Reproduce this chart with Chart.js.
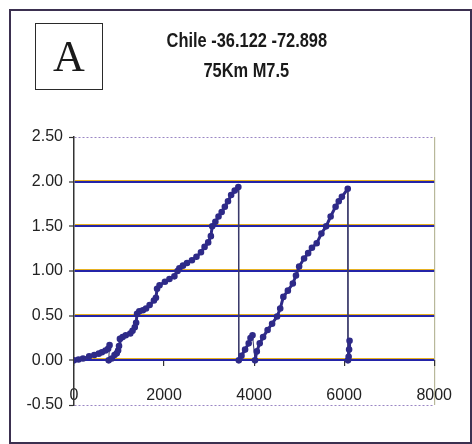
<!DOCTYPE html>
<html>
<head>
<meta charset="utf-8">
<script src="https://cdn.jsdelivr.net/npm/chart.js@4/dist/chart.umd.min.js"></script>
<style>
  html, body { margin: 0; padding: 0; background: #fff; }
  #wrap { position: relative; width: 472px; height: 444px; overflow: hidden; }
  #frame { position: absolute; left: 9px; top: 9px; width: 459px; height: 431px; border: 2px solid #3b3050; box-sizing: content-box; }
  #abox { position: absolute; left: 35px; top: 23px; width: 66px; height: 65px; border: 1.5px solid #2a2a2a;
          font-family: "Liberation Serif", "DejaVu Serif", serif; font-size: 44px; line-height: 65px; text-align: center; color: #1a1a1a; }
  .tl { position: absolute; left: 0; width: 493px; text-align: center; font-family: "Liberation Sans", Arial, sans-serif;
        font-weight: bold; font-size: 20px; color: #1a1a1a; white-space: nowrap; }
  .tl span { display: inline-block; transform: scaleX(0.82); transform-origin: center; }
  canvas { position: absolute; left: 0; top: 0; }
</style>
</head>
<body>
<div id="wrap">
  <canvas id="c" width="472" height="444"></canvas>
  <div id="frame"></div>
  <div id="abox">A</div>
  <div class="tl" style="top:29px"><span>Chile -36.122 -72.898</span></div>
  <div class="tl" style="top:59px"><span>75Km M7.5</span></div>
</div>
<script>
const xValues = [0,100,200,337,450,550,620,700,758,790,
  770,840,900,950,980,1000,1020,1080,1150,1250,1300,1350,1380,1400,1450,1530,1600,1680,1775,1820,1845,1900,2020,2120,2230,2300,2340,2420,2510,2620,2720,2820,2900,2980,3040,3070,3140,3210,3280,3350,3420,3490,3570,3650,
  3660,3720,3800,3880,3920,3965,
  4020,4060,4125,4200,4300,4400,4510,4580,4650,4750,4860,4930,5000,5110,5200,5285,5390,5495,5600,5700,5810,5880,5950,6080,
  6085,6100,6110,6120];
const yValues = [0,0.01,0.02,0.045,0.06,0.075,0.09,0.11,0.13,0.17,
  0.0,0.02,0.06,0.08,0.11,0.16,0.24,0.26,0.28,0.30,0.33,0.37,0.42,0.52,0.55,0.56,0.58,0.62,0.67,0.70,0.80,0.84,0.88,0.91,0.94,1.00,1.03,1.06,1.09,1.12,1.16,1.21,1.27,1.32,1.39,1.50,1.55,1.61,1.66,1.72,1.78,1.85,1.90,1.94,
  0.0,0.05,0.12,0.19,0.25,0.28,
  0.0,0.10,0.19,0.26,0.34,0.41,0.49,0.58,0.71,0.78,0.86,0.95,1.05,1.14,1.20,1.26,1.31,1.42,1.50,1.61,1.72,1.78,1.83,1.92,
  0.0,0.04,0.12,0.22];
const yTicks = [-0.5, 0, 0.5, 1.0, 1.5, 2.0, 2.5];
const xTicks = [0, 2000, 4000, 6000, 8000];

const points = xValues.map((x, i) => ({ x: x, y: yValues[i] }));
const lineColor = '#2e2a88';

const accentPlugin = {
  id: 'accent',
  beforeDatasetsDraw(chart) {
    const ctx = chart.ctx, ys = chart.scales.y, a = chart.chartArea;
    ctx.save();
    ctx.strokeStyle = '#e6b020';
    ctx.lineWidth = 1.2;
    [0, 0.5, 1.0, 1.5, 2.0].forEach(v => {
      const p = Math.round(ys.getPixelForValue(v)) - 1.5;
      ctx.beginPath(); ctx.moveTo(a.left + 1, p); ctx.lineTo(a.right, p); ctx.stroke();
    });
    ctx.restore();
  }
};

new Chart(document.getElementById('c'), {
  type: 'scatter',
  data: {
    datasets: [{
      data: points,
      showLine: true,
      borderColor: lineColor,
      backgroundColor: lineColor,
      borderWidth: 3,
      pointRadius: 1.8,
      pointHoverRadius: 0,
      segment: {
        borderWidth: c => (c.p0.parsed.y - c.p1.parsed.y > 0.1 ? 1 : 3),
        borderColor: c => (c.p0.parsed.y - c.p1.parsed.y > 0.1 ? '#3a3a6a' : lineColor)
      }
    }]
  },
  options: {
    responsive: false,
    animation: false,
    events: [],
    layout: { padding: { left: 0, right: 18, top: 137, bottom: 39 } },
    plugins: { legend: { display: false }, tooltip: { enabled: false }, title: { display: false } },
    scales: {
      x: {
        type: 'linear',
        position: { y: 0 },
        min: 0, max: 8000,
        afterBuildTicks: s => { s.ticks = xTicks.map(v => ({ value: v })); },
        ticks: { font: { family: 'Liberation Sans', size: 16 }, color: '#222', padding: 20, maxRotation: 0,
                 callback: v => String(v) },
        grid: {
          drawOnChartArea: true,
          color: c => (c.tick && c.tick.value === 8000 ? '#b8b89a' : 'rgba(0,0,0,0)'),
          lineWidth: 1.2,
          tickLength: 6,
          tickColor: '#333',
          tickWidth: 1.2
        },
        border: { display: false }
      },
      y: {
        type: 'linear',
        min: -0.5, max: 2.5,
        afterBuildTicks: s => { s.ticks = yTicks.map(v => ({ value: v })); },
        afterFit: s => { s.width = 74; },
        ticks: { font: { family: 'Liberation Sans', size: 16 }, color: '#222', padding: 6,
                 callback: v => Number(v).toFixed(2) },
        grid: {
          color: c => (c.tick && (c.tick.value === 2.5 || c.tick.value === -0.5) ? '#9a86c4' : '#2424a8'),
          lineWidth: c => (c.tick && (c.tick.value === 2.5 || c.tick.value === -0.5) ? 1 : 2),
          tickLength: 5,
          tickColor: '#333',
          tickWidth: 1.2
        },
        border: { display: true, color: '#333', width: 1.5,
                  dash: c => (c.tick && (c.tick.value === 2.5 || c.tick.value === -0.5) ? [2, 2] : []) }
      }
    }
  },
  plugins: [accentPlugin]
});
</script>
</body>
</html>
